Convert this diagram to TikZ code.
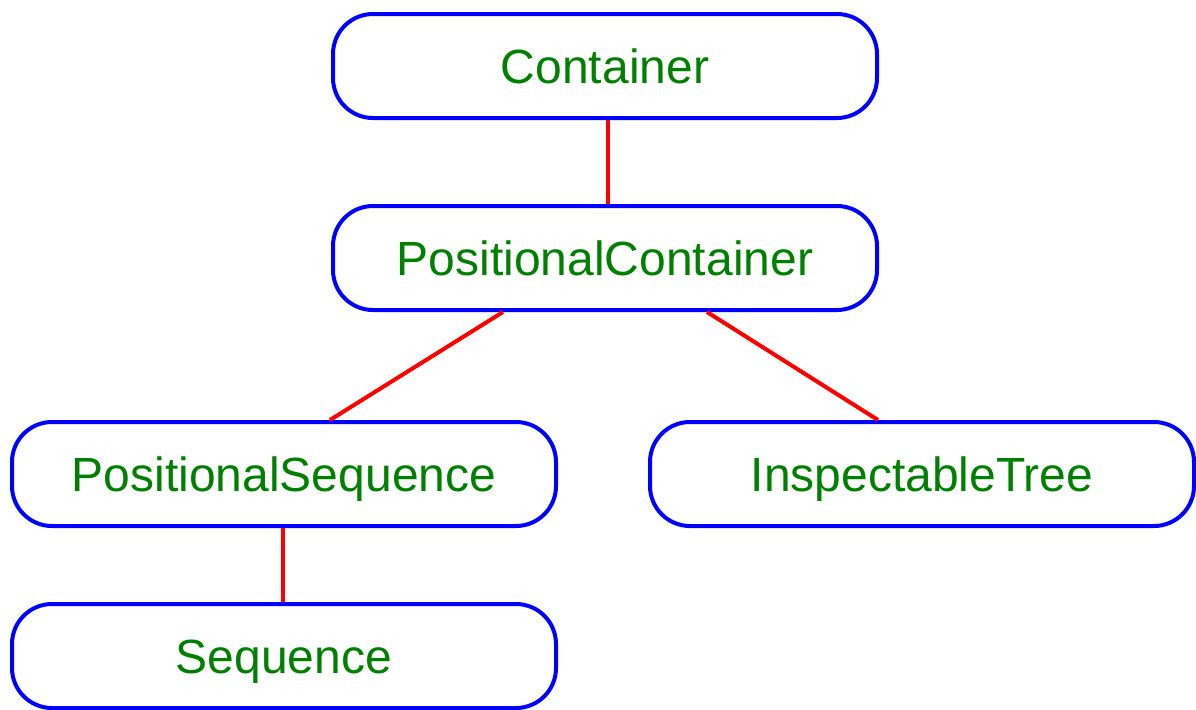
\documentclass[tikz,border=0pt]{standalone}
\usepackage{fontspec}
\setmainfont{Liberation Sans}
\usepackage{tikz}
\usepackage{xcolor}
\definecolor{boxblue}{RGB}{0,0,255}
\definecolor{txtgreen}{RGB}{0,128,0}
\definecolor{linkred}{RGB}{255,0,0}

\begin{document}
\begin{tikzpicture}[x=0.5pt, y=-0.5pt, font=\fontsize{24}{28}\selectfont,
  box/.style={draw=boxblue, line width=2pt, rounded corners=20pt, text=txtgreen,
    minimum width=272pt, minimum height=52pt, text height=17pt, text depth=0pt},
  link/.style={draw=linkred, line width=2pt}]
\useasboundingbox (0,0) rectangle (1196,709);
\foreach \name/\txt/\x/\y in {ct/Container/605/66, pc/PositionalContainer/605/258,
  ps/PositionalSequence/284/474, it/InspectableTree/922/474, sq/Sequence/284/656}
{\node[box] (\name) at (\x,\y) {\txt}; }
\foreach \a/\b/\da/\db in {ct/pc/1.5/1.5, pc/ps/-51/23, pc/it/51/-22, ps/sq/-0.5/-0.5}
{\draw[link] ([xshift=\da pt]\a.south) -- ([xshift=\db pt]\b.north); }
\end{tikzpicture}
\end{document}
